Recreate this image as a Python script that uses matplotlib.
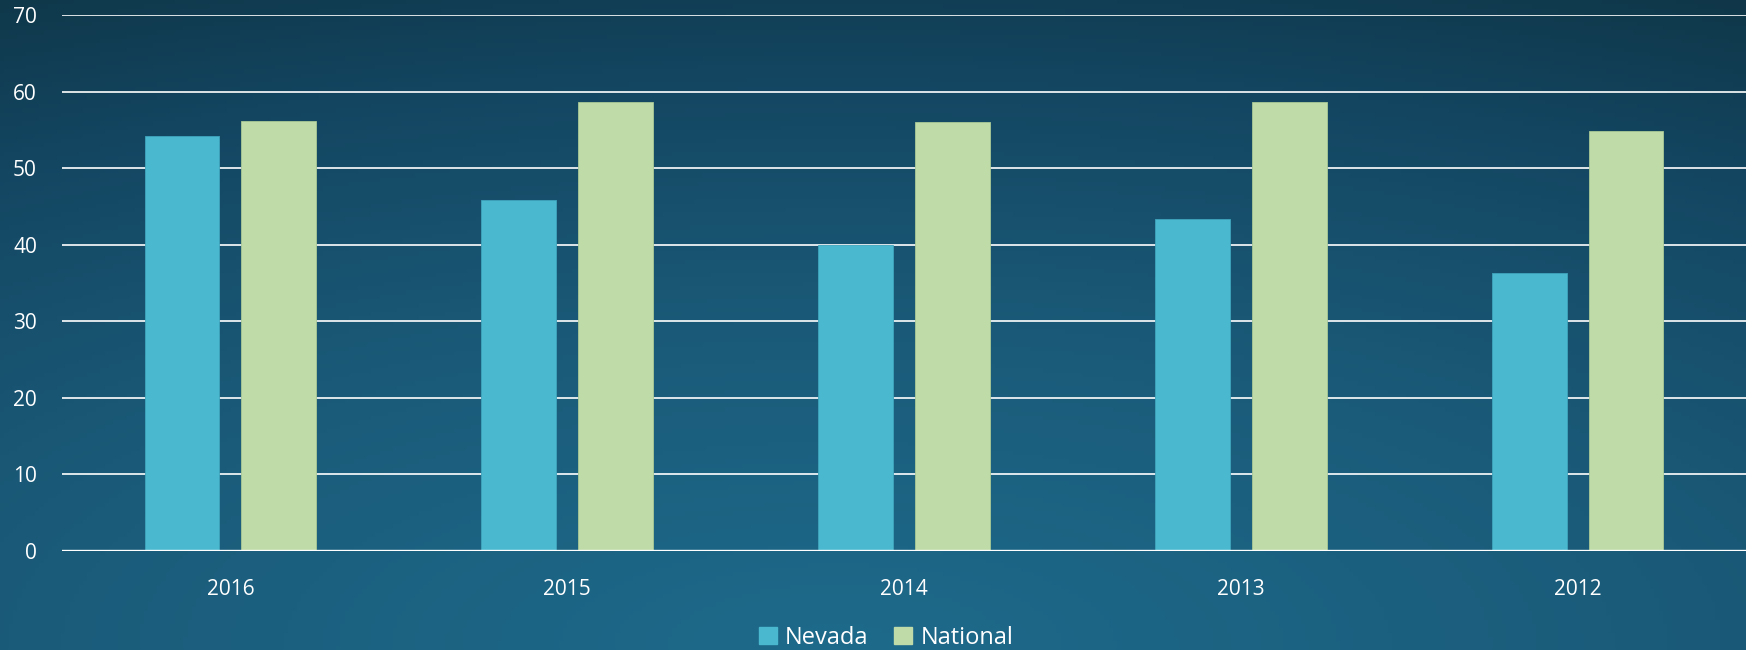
import numpy as np
import matplotlib
matplotlib.use("Agg")
import matplotlib.pyplot as plt
from matplotlib.colors import LinearSegmentedColormap
from matplotlib.patches import Patch

plt.rcParams['font.family'] = ['Open Sans', 'DejaVu Sans']

# data
years = ['2016', '2015', '2014', '2013', '2012']
nevada = [54.2, 45.8, 40.0, 43.3, 36.3]
national = [56.1, 58.7, 56.0, 58.7, 54.8]
yticks = [0, 10, 20, 30, 40, 50, 60, 70]

nevadaColor = '#4ab9d0'
nationalColor = '#bfdba8'

fig = plt.figure(figsize=(17.46, 6.5), dpi=100)

# background gradient: lighter toward bottom centre, darker at the top corners
bg = fig.add_axes([0, 0, 1, 1])
gx, gy = np.meshgrid(np.linspace(0, 1, 400), np.linspace(0, 1, 150))
dist = np.sqrt((gx - 0.48) ** 2 + (gy - 1.0) ** 2) / 1.2
dist = np.clip(dist, 0, 1)
cmap = LinearSegmentedColormap.from_list(
    'bg', [(0, '#1e6a8b'), (0.45, '#1a5a78'), (0.8, '#134560'), (1, '#0f3749')])
bg.imshow(dist, cmap=cmap, aspect='auto', extent=[0, 1, 0, 1], origin='upper')
bg.axis('off')

ax = fig.add_axes([62 / 1746, 1 - 551 / 650, 1 - 62 / 1746, (551 - 15) / 650])
ax.patch.set_alpha(0)

x = np.arange(len(years))
w = 0.222
off = 0.1437
ax.bar(x - off, nevada, w, color=nevadaColor, edgecolor='#3fa5bd', linewidth=0.6, zorder=3, label='Nevada')
ax.bar(x + off, national, w, color=nationalColor, edgecolor='#a9c995', linewidth=0.6, zorder=3, label='National')

ax.set_xlim(-0.5, len(years) - 0.5)
ax.set_ylim(0, 70)
ax.set_yticks(yticks)
ax.set_xticks(x)
ax.set_xticklabels(years)
for yv in yticks[1:]:
    ax.axhline(yv, color='white', linewidth=1.2, zorder=1)
ax.axhline(0, color='white', linewidth=1.7, zorder=4)

for s in ax.spines.values():
    s.set_visible(False)
ax.tick_params(axis='both', length=0, colors='white', labelsize=15)
ax.tick_params(axis='y', pad=18)
ax.tick_params(axis='x', pad=20)

handles = [Patch(color=nevadaColor), Patch(color=nationalColor)]
fig.legend(handles, ['Nevada', 'National'], loc='center', bbox_to_anchor=(886 / 1746, 1 - 638 / 650),
           ncol=2, frameon=False, fontsize=17, labelcolor='white', handlelength=0.75, handleheight=0.75,
           handletextpad=0.35, columnspacing=1.1)

fig.savefig('out.png', dpi=100)
